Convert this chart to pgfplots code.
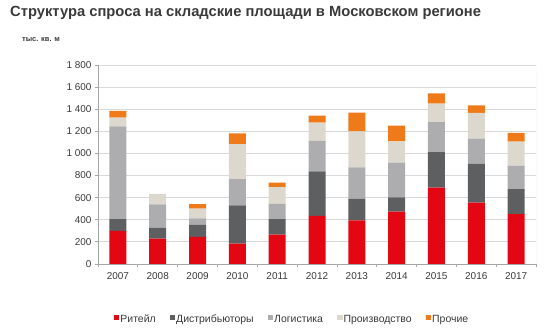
\documentclass[border=0pt]{standalone}
\usepackage{fontspec}
\setmainfont{Liberation Sans}
\usepackage{pgfplots}
\pgfplotsset{compat=1.18}
\definecolor{cRet}{HTML}{E30613}
\definecolor{cDis}{HTML}{5E5F61}
\definecolor{cLog}{HTML}{ADADB0}
\definecolor{cPro}{HTML}{DCD8CD}
\definecolor{cOth}{HTML}{EF7A1A}
\definecolor{txt}{HTML}{3A3A3A}
\definecolor{gridc}{HTML}{D9D9D9}
\definecolor{axc}{HTML}{A6A6A6}
\begin{document}
\begin{tikzpicture}
\path[use as bounding box] (0bp,0bp) rectangle (546bp,334bp);
\node[anchor=west, inner sep=0, text=txt, font=\fontsize{14.8}{17}\selectfont\bfseries] at (10bp,321bp) {Структура спроса на складские площади в Московском регионе};
\node[anchor=west, inner sep=0, text=txt, font=\fontsize{7.5}{9}\selectfont\bfseries] at (22bp,294bp) {тыс. кв. м};
\begin{axis}[
  at={(98bp,70bp)}, anchor=south west,
  width=438bp, height=199bp, scale only axis,
  ybar stacked, bar width=17bp,
  xmin=-0.5, xmax=10.5, ymin=0, ymax=1800,
  axis x line*=bottom, axis y line*=left,
  axis line style={draw=axc, line width=0.8bp},
  xtick={0,...,10},
  xticklabels={2007,2008,2009,2010,2011,2012,2013,2014,2015,2016,2017},
  minor xtick={-0.5,0.5,...,10.5},
  ytick={0,200,...,1800},
  minor ytick={0,200,...,1800},
  yticklabels={0,200,400,600,800,1 000,1 200,1 400,1 600,1 800},
  major tick length=0pt, minor tick length=3bp,
  tick align=outside,
  minor tick style={draw=axc, line width=0.8bp},
  ymajorgrids, grid style={draw=gridc, line width=0.8bp},
  tick label style={text=txt, font=\fontsize{10}{12}\selectfont},
  xticklabel style={yshift=-5bp},
  yticklabel style={xshift=-3bp},
  legend columns=5,
  legend style={draw=none, at={(0.442,-0.28)}, anchor=center,
    font=\fontsize{10.5}{12}\selectfont, text=txt,
    nodes={inner sep=1bp},
    /tikz/every even column/.append style={column sep=13bp}},
  legend image code/.code={\fill[#1] (0bp,-0.5bp) rectangle (5.5bp,5bp);},
]
\addplot[fill=cRet, draw=none] coordinates {(0,300)(1,230)(2,245)(3,185)(4,265)(5,435)(6,395)(7,473)(8,690)(9,555)(10,452)};
\addplot[fill=cDis, draw=none] coordinates {(0,105)(1,100)(2,108)(3,345)(4,140)(5,403)(6,196)(7,130)(8,323)(9,352)(10,226)};
\addplot[fill=cLog, draw=none] coordinates {(0,840)(1,210)(2,60)(3,238)(4,138)(5,275)(6,283)(7,313)(8,271)(9,227)(10,211)};
\addplot[fill=cPro, draw=none] coordinates {(0,80)(1,95)(2,88)(3,316)(4,153)(5,166)(6,326)(7,193)(8,166)(9,232)(10,217)};
\addplot[fill=cOth, draw=none] coordinates {(0,60)(1,0)(2,40)(3,97)(4,40)(5,63)(6,169)(7,142)(8,94)(9,69)(10,79)};
\legend{Ритейл,Дистрибьюторы,Логистика,Производство,Прочие}
\draw[gridc, line width=0.8bp] (rel axis cs:1,0) -- (rel axis cs:1,1);
\end{axis}
\end{tikzpicture}
\end{document}
